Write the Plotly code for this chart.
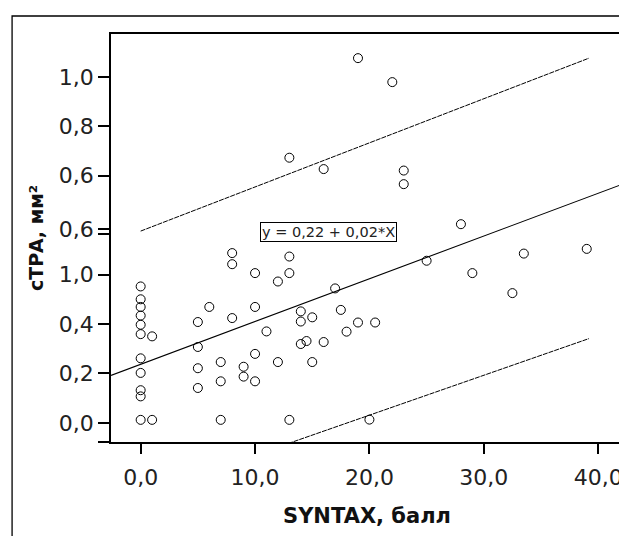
import plotly.graph_objects as go

# ---- data ----
syntax = [0, 0, 0, 0, 0, 0, 0, 0, 0, 0, 0,
          1, 1,
          5, 5, 5, 5,
          6,
          7, 7, 7,
          8, 8, 8,
          9, 9,
          10, 10, 10, 10,
          11,
          12, 12,
          13, 13, 13, 13,
          14, 14, 14,
          14.5,
          15, 15,
          16, 16,
          17, 17.5, 18,
          19, 19,
          20, 20.5,
          22, 23, 23,
          25, 28, 29, 32.5, 33.5, 39]
ctra = [0.552, 0.500, 0.469, 0.434, 0.397, 0.359, 0.261, 0.202, 0.132, 0.107, 0.012,
        0.350, 0.012,
        0.408, 0.307, 0.221, 0.141,
        0.469,
        0.246, 0.168, 0.012,
        0.687, 0.642, 0.424,
        0.227, 0.187,
        0.606, 0.469, 0.279, 0.168,
        0.370,
        0.572, 0.246,
        0.673, 0.606, 0.012, 1.073,
        0.451, 0.410, 0.319,
        0.331,
        0.427, 0.246,
        0.327, 1.027,
        0.544, 0.457, 0.369,
        0.406, 1.476,
        0.013, 0.406,
        1.379, 1.021, 0.966,
        0.656, 0.804, 0.606, 0.525, 0.685, 0.704]

fit_intercept = 0.237
fit_slope = 0.0173
pi_x = [0, 39.2]
pi_upper = [0.776, 1.476]
pi_lower = [-0.292, 0.341]

x_range = [-2.594, 42.17]
y_range = [-0.0776, 1.5737]

x_tickvals = [0, 10, 20, 30, 40]
x_ticktext = ["0,0", "10,0", "20,0", "30,0", "40,0"]
y_tickvals = [-0.0765, 0, 0.2, 0.4, 0.6, 0.764, 0.784, 1.0, 1.2, 1.4]
y_ticktext = ["", "0,0", "0,2", "0,4", "1,0", "", "0,6", "0,6", "0,8", "1,0"]

equation = "y = 0,22 + 0,02*X"
x_title = "SYNTAX, балл"
y_title = "сТРА, мм²"

FONT = "DejaVu Sans"

fig = go.Figure()

fig.add_trace(go.Scatter(
    x=x_range, y=[fit_intercept + fit_slope * v for v in x_range],
    mode="lines", line=dict(color="black", width=1.1),
    showlegend=False, hoverinfo="skip"))
fig.add_trace(go.Scatter(
    x=pi_x, y=pi_upper, mode="lines",
    line=dict(color="black", width=1, dash="5px,1px"),
    showlegend=False, hoverinfo="skip"))
fig.add_trace(go.Scatter(
    x=pi_x, y=pi_lower, mode="lines",
    line=dict(color="black", width=1, dash="5px,1px"),
    showlegend=False, hoverinfo="skip"))
fig.add_trace(go.Scatter(
    x=syntax, y=ctra, mode="markers",
    marker=dict(symbol="circle-open", size=9, color="black", line=dict(width=1)),
    showlegend=False))

fig.add_annotation(
    x=16.43, y=0.772, xref="x", yref="y", text=equation, showarrow=False,
    font=dict(family=FONT, size=14.5, color="#222"),
    bordercolor="black", borderwidth=1, borderpad=1, bgcolor="white")

# outer frame (plot area spans 512.5 x 408.5 px)
fig.add_shape(type="rect", xref="paper", yref="paper",
              x0=-0.1932, x1=1.05, y0=-0.3, y1=1.0441,
              line=dict(color="black", width=1.3), fillcolor="rgba(0,0,0,0)",
              layer="below")

fig.update_layout(
    width=619, height=528,
    margin=dict(l=103, r=3.5, t=26, b=93.5),
    paper_bgcolor="white", plot_bgcolor="white",
    font=dict(family=FONT, color="#1a1a1a"),
    xaxis=dict(range=x_range, tickvals=x_tickvals, ticktext=x_ticktext,
               showgrid=False, zeroline=False, showline=True, mirror=True,
               linecolor="black", linewidth=1.5,
               ticks="outside", ticklen=10, tickwidth=2, tickcolor="black",
               ticklabelstandoff=5,
               tickfont=dict(family=FONT, size=22, color="#222"),
               title=dict(text="<b>" + x_title + "</b>", standoff=19,
                          font=dict(family=FONT, size=21, color="#111"))),
    yaxis=dict(range=y_range, tickvals=y_tickvals, ticktext=y_ticktext,
               showgrid=False, zeroline=False, showline=True, mirror=True,
               linecolor="black", linewidth=1.5,
               ticks="outside", ticklen=11, tickwidth=1.5, tickcolor="black",
               tickfont=dict(family=FONT, size=22, color="#222"),
               title=dict(text="<b>" + y_title + "</b>", standoff=10,
                          font=dict(family=FONT, size=19, color="#111"))),
)

fig.write_html("out.html")
